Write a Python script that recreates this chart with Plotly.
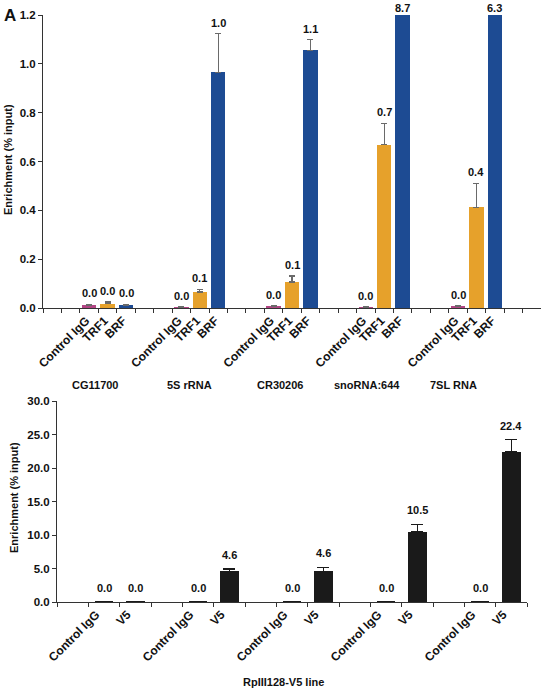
import plotly.graph_objects as go

# ---------------- data ----------------
top_groups = ["CG11700", "5S rRNA", "CR30206", "snoRNA:644", "7SL RNA"]
top_series = ["Control IgG", "TRF1", "BRF"]
ctrl_vals = [0.012, 0.004, 0.008, 0.003, 0.007]
ctrl_err = [0.003, 0.001, 0.002, 0.001, 0.002]
trf1_vals = [0.018, 0.065, 0.106, 0.669, 0.413]
trf1_err = [0.006, 0.012, 0.025, 0.088, 0.097]
brf_vals = [0.012, 0.965, 1.055, 8.7, 6.3]
brf_err = [0.003, 0.158, 0.044, 0.0, 0.0]
top_yticks = [0.0, 0.2, 0.4, 0.6, 0.8, 1.0, 1.2]

bottom_series = ["Control IgG", "V5"]
ctrl2_vals = [0.02, 0.03, 0.03, 0.03, 0.03]
ctrl2_err = [0.01, 0.01, 0.01, 0.01, 0.01]
v5_vals = [0.03, 4.57, 4.57, 10.5, 22.38]
v5_err = [0.01, 0.35, 0.6, 1.1, 1.85]
bottom_yticks = [0, 5, 10, 15, 20, 25, 30]
bottom_xtitle = "RpIII128-V5 line"
ytitle = "Enrichment (% input)"

# ---------------- styles ----------------
FONT = "Liberation Sans, Arial, Helvetica, sans-serif"
top_colors = ["#b24584", "#e6a12b", "#1d4b93"]
top_err_color = "#6a6a6a"
bottom_color = "#1a1a1a"

fig = go.Figure()

# top panel
top_series_vals = [ctrl_vals, trf1_vals, brf_vals]
top_series_err = [ctrl_err, trf1_err, brf_err]
TOP_MAX = 1.2
n_top_slots = 27
top_tickvals, top_ticktext = [], []
annots = []
lblfont = dict(size=11, family=FONT, color="#111", weight="bold")
for s, name in enumerate(top_series):
    xs = [5 * g + 2 + s for g in range(len(top_groups))]
    top_tickvals += xs
    top_ticktext += [name] * len(xs)
    fig.add_trace(go.Bar(
        x=xs, y=top_series_vals[s], width=0.78,
        marker=dict(color=top_colors[s], line=dict(width=0)),
        error_y=dict(type="data", array=top_series_err[s], symmetric=False,
                     arrayminus=[0] * len(xs), visible=True,
                     color=top_err_color, thickness=1.3, width=3),
        xaxis="x", yaxis="y", showlegend=False, name=name,
    ))
    for x, v, e in zip(xs, top_series_vals[s], top_series_err[s]):
        clipped = v + e >= TOP_MAX
        annots.append(dict(
            x=x, y=min(v + e, TOP_MAX), xref="x", yref="y",
            text=f"{v:.1f}", showarrow=False, yanchor="bottom",
            yshift=-1 if clipped else 3, font=lblfont,
        ))

# bottom panel
bottom_vals = [ctrl2_vals, v5_vals]
bottom_errs = [ctrl2_err, v5_err]
bot_tickvals, bot_ticktext = [], []
for s, name in enumerate(bottom_series):
    xs = [3 * g + 1 + s for g in range(len(v5_vals))]
    bot_tickvals += xs
    bot_ticktext += [name] * len(xs)
    fig.add_trace(go.Bar(
        x=xs, y=bottom_vals[s], width=0.6,
        marker=dict(color=bottom_color, line=dict(width=0)),
        error_y=dict(type="data", array=bottom_errs[s], symmetric=False,
                     arrayminus=[0] * len(xs), visible=True,
                     color=bottom_color, thickness=1.5, width=6),
        xaxis="x2", yaxis="y2", showlegend=False, name=name,
    ))
    for x, v, e in zip(xs, bottom_vals[s], bottom_errs[s]):
        annots.append(dict(
            x=x, y=v + e, xref="x2", yref="y2",
            text=f"{v:.1f}", showarrow=False, yanchor="bottom", yshift=6,
            font=lblfont,
        ))

# group labels (top)
group_label_x = [2.32, 7.45, 12.35, 17.07, 21.75]
for gx, gname in zip(group_label_x, top_groups):
    annots.append(dict(
        x=gx, y=(689 - 385) / 689, xref="x", yref="paper", text=gname,
        showarrow=False, yanchor="middle", xanchor="center", font=lblfont,
    ))

# axis titles & panel letter
annots += [
    dict(x=8 / 541, y=(689 - 160) / 689, xref="paper", yref="paper", text=ytitle,
         textangle=-90, showarrow=False, xanchor="center", yanchor="middle",
         font=lblfont),
    dict(x=14 / 541, y=(689 - 498) / 689, xref="paper", yref="paper", text=ytitle,
         textangle=-90, showarrow=False, xanchor="center", yanchor="middle",
         font=lblfont),
    dict(x=283 / 541, y=(689 - 682) / 689, xref="paper", yref="paper", text=bottom_xtitle,
         showarrow=False, xanchor="center", yanchor="middle", font=lblfont),
    dict(x=10 / 541, y=(689 - 15) / 689, xref="paper", yref="paper", text="A",
         showarrow=False, xanchor="center", yanchor="middle",
         font=dict(size=17, family=FONT, color="#111", weight="bold")),
]

tickfont = dict(size=11.5, family=FONT, color="#111", weight="bold")
xtickfont = dict(size=12, family=FONT, color="#111", weight="bold")
axis_common = dict(showgrid=False, zeroline=False, showline=True, automargin=False,
                   linecolor="#333", linewidth=1, tickcolor="#333")

fig.update_layout(
    width=541, height=689, margin=dict(l=0, r=0, t=0, b=0, autoexpand=False),
    paper_bgcolor="white", plot_bgcolor="white", bargap=0,
    font=dict(family=FONT, color="#111"),
    xaxis=dict(domain=[43 / 541, 1.0], anchor="y", range=[-0.5, n_top_slots - 0.5],
               tickmode="array", tickvals=top_tickvals, ticktext=top_ticktext,
               ticks="", tickangle=-45, tickfont=xtickfont, ticklabelshift=-3,
               minor=dict(ticks="outside", tick0=-0.5, dtick=1, ticklen=4,
                          tickcolor="#333", showgrid=False),
               **axis_common),
    yaxis=dict(domain=[(689 - 308) / 689, (689 - 15) / 689], anchor="x",
               range=[0, TOP_MAX], tickmode="array", tickvals=top_yticks,
               ticktext=[f"{t:.1f}" for t in top_yticks], ticks="outside",
               ticklen=4, tickfont=tickfont, **axis_common),
    xaxis2=dict(domain=[57 / 541, 527 / 541], anchor="y2", range=[-0.5, 14.5],
                tickmode="array", tickvals=bot_tickvals, ticktext=bot_ticktext,
                ticks="", tickangle=-45, tickfont=xtickfont, ticklabelshift=-8,
                minor=dict(ticks="outside", tick0=-0.5, dtick=1, ticklen=4,
                           tickcolor="#333", showgrid=False),
                **axis_common),
    yaxis2=dict(domain=[(689 - 602) / 689, (689 - 401) / 689], anchor="x2",
                range=[0, 30], tickmode="array", tickvals=bottom_yticks,
                ticktext=[f"{t:.1f}" for t in bottom_yticks], ticks="outside",
                ticklen=4, tickfont=tickfont, **axis_common),
    annotations=annots,
)

fig.write_html("out.html", config={"displayModeBar": False},
               post_script="document.body.style.margin='0';document.body.style.overflow='hidden';")
